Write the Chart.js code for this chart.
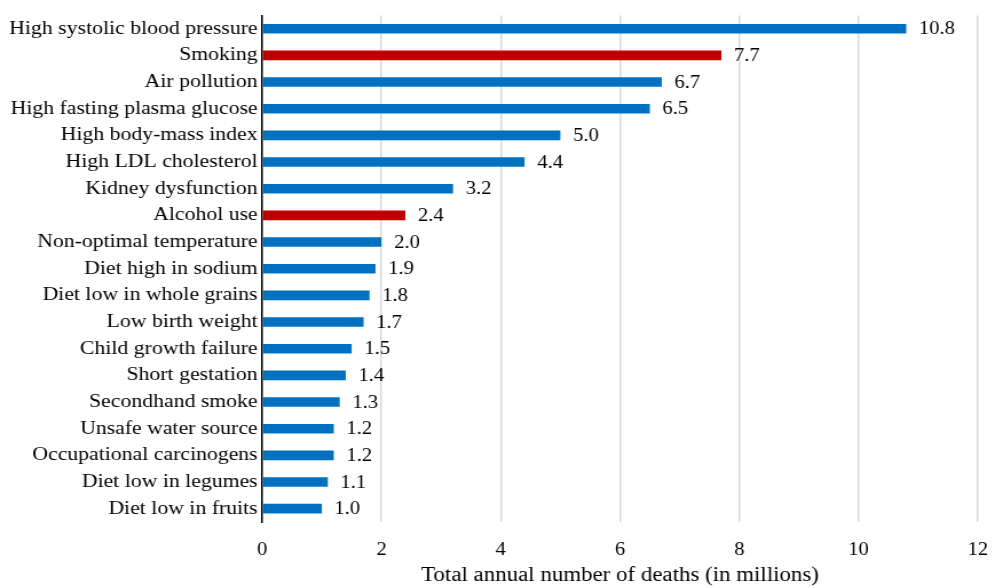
<!DOCTYPE html>
<html>
<head>
<meta charset="utf-8">
<script src="https://cdn.jsdelivr.net/npm/chart.js@4"></script>
<style>
  html, body { margin: 0; padding: 0; background: #ffffff; overflow: hidden; }
  /* the serif type in this chart is set wide, so the canvas is drawn narrower and stretched */
  #riskChart { display: block; transform: scaleX(1.145); transform-origin: 0 0; }
</style>
</head>
<body>
<canvas id="riskChart" width="866" height="588"></canvas>
<script>
const riskFactors = [
  'High systolic blood pressure', 'Smoking', 'Air pollution', 'High fasting plasma glucose',
  'High body-mass index', 'High LDL cholesterol', 'Kidney dysfunction', 'Alcohol use',
  'Non-optimal temperature', 'Diet high in sodium', 'Diet low in whole grains',
  'Low birth weight', 'Child growth failure', 'Short gestation', 'Secondhand smoke',
  'Unsafe water source', 'Occupational carcinogens', 'Diet low in legumes', 'Diet low in fruits'
];
const deaths = [10.8, 7.7, 6.7, 6.5, 5.0, 4.4, 3.2, 2.4, 2.0, 1.9, 1.8, 1.7, 1.5, 1.4, 1.3, 1.2, 1.2, 1.1, 1.0];
const highlighted = ['Smoking', 'Alcohol use'];
const xTicks = [0, 2, 4, 6, 8, 10, 12];

const BLUE = '#0070c0';
const RED = '#c00000';
const FONT = "'Liberation Serif', 'Times New Roman', serif";

const barColors = riskFactors.map(r => highlighted.includes(r) ? RED : BLUE);

// value labels at the end of each bar
const valueLabels = {
  id: 'valueLabels',
  afterDatasetsDraw(chart) {
    const ctx = chart.ctx;
    const meta = chart.getDatasetMeta(0);
    ctx.save();
    ctx.font = '18px ' + FONT;
    ctx.fillStyle = '#000000';
    ctx.textAlign = 'left';
    ctx.textBaseline = 'middle';
    meta.data.forEach((bar, i) => {
      ctx.fillText(deaths[i].toFixed(1), bar.x + 11, bar.y + 1);
    });
    ctx.restore();
  }
};

new Chart(document.getElementById('riskChart'), {
  type: 'bar',
  data: {
    labels: riskFactors,
    datasets: [{
      data: deaths,
      backgroundColor: barColors,
      borderWidth: 0,
      barPercentage: 0.36,
      categoryPercentage: 1.0
    }]
  },
  options: {
    indexAxis: 'y',
    responsive: false,
    animation: false,
    layout: { padding: { top: 14, right: 12, left: 0, bottom: 0 } },
    plugins: {
      legend: { display: false },
      tooltip: { enabled: false }
    },
    scales: {
      x: {
        min: 0,
        max: 12,
        afterBuildTicks: scale => { scale.ticks = xTicks.map(v => ({ value: v })); },
        afterFit: scale => {
          scale.height = 66;
          scale.paddingLeft = 0;
          scale.paddingRight = 0;
        },
        border: { display: false },
        grid: { color: '#d9d9d9', lineWidth: 1.5, drawTicks: false },
        ticks: { color: '#000000', padding: 17, font: { family: FONT, size: 18 } },
        title: {
          display: true,
          text: 'Total annual number of deaths (in millions)',
          color: '#000000',
          font: { family: FONT, size: 20 },
          padding: { top: 4, bottom: 0 }
        }
      },
      y: {
        afterFit: scale => { scale.width = 229; },
        border: { display: true, color: '#000000', width: 1.5 },
        grid: { display: false, drawTicks: false },
        ticks: { color: '#000000', padding: 4, font: { family: FONT, size: 19 } }
      }
    }
  },
  plugins: [valueLabels]
});
</script>
</body>
</html>
